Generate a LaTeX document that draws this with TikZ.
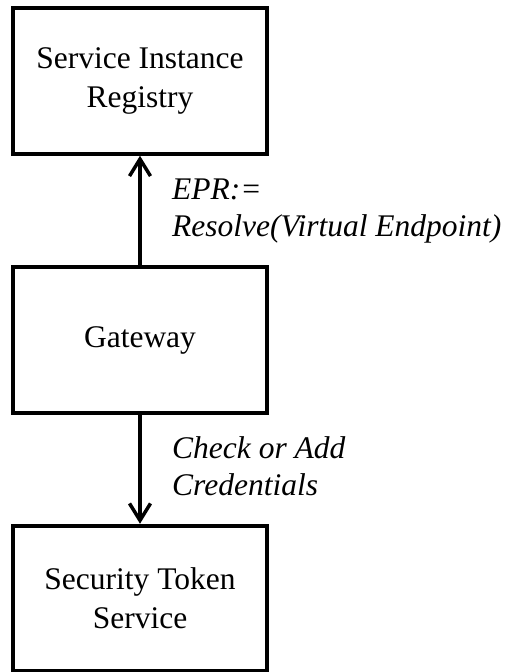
\documentclass[tikz,border=0pt]{standalone}
\usepackage{fontspec}
\setmainfont{Liberation Serif}
\usetikzlibrary{arrows.meta}
\begin{document}
\begin{tikzpicture}[x=1pt,y=1pt,
  box/.style={draw, line width=4pt, minimum width=254pt, minimum height=145.5pt,
    align=center, inner sep=0pt, font=\fontsize{31.5}{39}\selectfont},
  lbl/.style={align=left, inner sep=0pt, anchor=north west,
    font=\fontsize{31.5}{37}\selectfont\itshape},
  arr/.style={line width=4pt, -{Straight Barb[length=17pt,width=21pt,line width=3.5pt]}}]
\useasboundingbox (0,0) rectangle (507,-672);
\node[box] (sir) at (140,-81) {Service Instance\\Registry};
\node[box] (gw) at (140,-340) {Gateway};
\node[box] (sts) at (140,-598.5) {Security Token\\Service};
\draw[arr] (gw) -- (sir);
\draw[arr] (gw) -- (sts);
\node[lbl] (l1) at (172,-179) {EPR:=\\Resolve(Virtual Endpoint)};
\node[lbl] (l2) at (172,-436.5) {Check or Add\\Credentials};
\end{tikzpicture}
\end{document}
